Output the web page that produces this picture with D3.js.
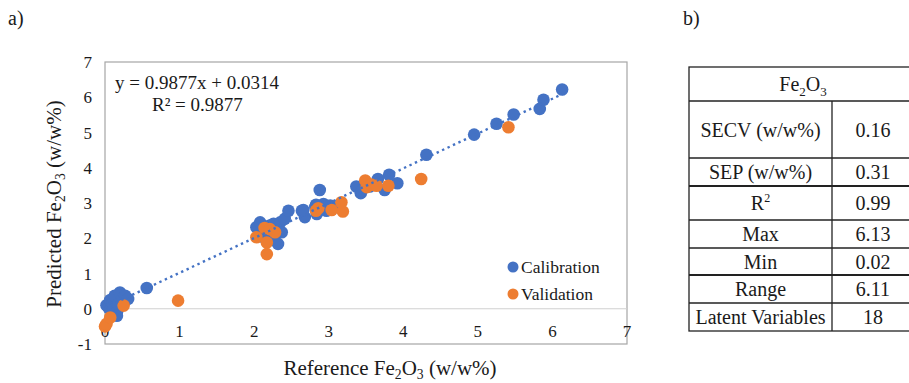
<!DOCTYPE html>
<html>
<head>
<meta charset="utf-8">
<script src="https://cdn.jsdelivr.net/npm/d3@7"></script>
<style>
  body { margin: 0; background: #fff; }
  svg text { font-family: "Liberation Serif", "Times New Roman", serif; fill: #1a1a1a; }
</style>
</head>
<body>
<svg id="chart" width="909" height="383" font-family="Liberation Serif, serif"></svg>
<script>
// calibration set (reference, predicted)
const calX = [0.02, 0.05, 0.07, 0.10, 0.11, 0.13, 0.16, 0.16, 0.18, 0.20, 0.24, 0.27, 0.31, 0.56,
  2.03, 2.08, 2.12, 2.10, 2.20, 2.26, 2.26, 2.32, 2.35, 2.37, 2.41, 2.46,
  2.64, 2.68, 2.66, 2.84, 2.82, 2.88, 2.93, 2.97, 3.02, 3.11, 2.83,
  3.37, 3.43, 3.44, 3.55, 3.66, 3.75, 3.81, 3.92,
  4.31, 4.95, 5.25, 5.48, 5.83, 5.88, 6.13];
const calY = [0.10, 0.02, 0.25, 0.15, 0.04, 0.37, -0.10, -0.20, 0.13, 0.46, 0.30, 0.37, 0.28, 0.59,
  2.31, 2.45, 2.17, 2.05, 2.35, 2.03, 2.41, 1.84, 2.45, 2.17, 2.55, 2.78,
  2.78, 2.60, 2.80, 2.69, 2.89, 3.37, 2.97, 2.78, 2.93, 2.88, 2.95,
  3.47, 3.28, 3.35, 3.47, 3.68, 3.37, 3.80, 3.56,
  4.37, 4.94, 5.25, 5.51, 5.67, 5.93, 6.22];

// validation set
const valX = [0.00, 0.02, 0.07, 0.25, 0.98, 2.03, 2.14, 2.17, 2.17, 2.21, 2.28,
  2.86, 2.83, 3.04, 3.17, 3.19, 3.49, 3.51, 3.57, 3.64, 3.80, 4.24, 5.41];
const valY = [-0.50, -0.43, -0.25, 0.09, 0.23, 2.03, 2.29, 1.88, 1.55, 2.26, 2.17,
  2.85, 2.78, 2.80, 3.02, 2.76, 3.64, 3.45, 3.52, 3.49, 3.49, 3.68, 5.15];

const slope = 0.9877, intercept = 0.0314;
const xTicks = [0, 1, 2, 3, 4, 5, 6, 7];
const yTicks = [-1, 0, 1, 2, 3, 4, 5, 6, 7];

const tableLabels = ["SECV (w/w%)", "SEP (w/w%)", "R2", "Max", "Min", "Range", "Latent Variables"];
const tableValues = ["0.16", "0.31", "0.99", "6.13", "0.02", "6.11", "18"];

const svg = d3.select('#chart');
const x = d3.scaleLinear().domain([0, 7]).range([105, 627]);
const y = d3.scaleLinear().domain([-1, 7]).range([344, 62]);

svg.append('text').attr('x', 8).attr('y', 25).attr('font-size', 20).text('a)');
svg.append('text').attr('x', 683).attr('y', 25).attr('font-size', 20).text('b)');

// plot frame
svg.append('rect')
    .attr('x', x(0)).attr('y', y(7))
    .attr('width', x(7) - x(0)).attr('height', y(-1) - y(7))
    .attr('fill', 'none').attr('stroke', '#a6a6a6').attr('stroke-width', 1.2);

// horizontal axis line at y = 0
svg.append('line')
    .attr('x1', x(0)).attr('x2', x(7))
    .attr('y1', y(0)).attr('y2', y(0))
    .attr('stroke', '#d0d0d0').attr('stroke-width', 1.2);

svg.selectAll('.ytick').data(yTicks).enter().append('text')
    .attr('class', 'ytick')
    .attr('x', 92).attr('y', d => y(d) + 6)
    .attr('text-anchor', 'end').attr('font-size', 17)
    .text(d => d);

svg.selectAll('.xtick').data(xTicks).enter().append('text')
    .attr('class', 'xtick')
    .attr('x', d => x(d)).attr('y', y(0) + 28)
    .attr('text-anchor', 'middle').attr('font-size', 17)
    .text(d => d);

// points
const calData = calX.map((v, i) => [v, calY[i]]);
const valData = valX.map((v, i) => [v, valY[i]]);

svg.selectAll('.cal').data(calData).enter().append('circle')
    .attr('class', 'cal')
    .attr('cx', d => x(d[0])).attr('cy', d => y(d[1]))
    .attr('r', 6.3).attr('fill', '#4472c4');

svg.selectAll('.val').data(valData).enter().append('circle')
    .attr('class', 'val')
    .attr('cx', d => x(d[0])).attr('cy', d => y(d[1]))
    .attr('r', 6.3).attr('fill', '#ed7d31');

// trendline
const xEnd = d3.max(calX);
svg.append('line')
    .attr('x1', x(0)).attr('y1', y(intercept))
    .attr('x2', x(xEnd)).attr('y2', y(slope * xEnd + intercept))
    .attr('stroke', '#4472c4').attr('stroke-width', 2.4)
    .attr('stroke-dasharray', '2.4,3.6');

// equation
svg.append('text').attr('x', 115).attr('y', 89).attr('font-size', 19)
    .text(`y = ${slope}x + ${intercept}`);
svg.append('text').attr('x', 152).attr('y', 111).attr('font-size', 19)
    .text(`R² = ${slope}`);

// legend
const legend = [['Calibration', '#4472c4'], ['Validation', '#ed7d31']];
legend.forEach((l, i) => {
    svg.append('circle').attr('cx', 513).attr('cy', 267 + i * 27).attr('r', 5.5).attr('fill', l[1]);
    svg.append('text').attr('x', 521).attr('y', 273 + i * 27).attr('font-size', 17.5).text(l[0]);
});

// axis titles
function chem(sel, before, after, size) {
    sel.append('tspan').text(before + 'Fe');
    sel.append('tspan').attr('font-size', size * 0.65).attr('dy', 4).text('2');
    sel.append('tspan').attr('dy', -4).text('O');
    sel.append('tspan').attr('font-size', size * 0.65).attr('dy', 4).text('3');
    sel.append('tspan').attr('dy', -4).text(after);
}

const yt = svg.append('text')
    .attr('transform', 'translate(61,204) rotate(-90)')
    .attr('text-anchor', 'middle').attr('font-size', 21);
chem(yt, 'Predicted ', ' (w/w%)', 21);

const xt = svg.append('text')
    .attr('x', 390).attr('y', 375)
    .attr('text-anchor', 'middle').attr('font-size', 21);
chem(xt, 'Reference ', ' (w/w%)', 21);

// table
const tLeft = 689, tMid = 832, tRight = 912;
const rowEdges = [67, 101, 158, 186, 220, 248, 275, 303, 331];
const tg = svg.append('g');
tg.append('rect').attr('x', tLeft).attr('y', rowEdges[0])
    .attr('width', tRight - tLeft).attr('height', rowEdges[8] - rowEdges[0])
    .attr('fill', 'none').attr('stroke', '#222').attr('stroke-width', 1.3);
rowEdges.slice(1, 8).forEach(e => {
    tg.append('line').attr('x1', tLeft).attr('x2', tRight).attr('y1', e).attr('y2', e)
        .attr('stroke', '#222').attr('stroke-width', (e === 186 || e === 275) ? 2 : 1.3);
});
tg.append('line').attr('x1', tMid).attr('x2', tMid).attr('y1', rowEdges[1]).attr('y2', rowEdges[8])
    .attr('stroke', '#222').attr('stroke-width', 1.3);

const head = tg.append('text').attr('x', 803).attr('y', 91)
    .attr('text-anchor', 'middle').attr('font-size', 20);
head.append('tspan').text('Fe');
head.append('tspan').attr('font-size', 13).attr('dy', 5).text('2');
head.append('tspan').attr('dy', -5).text('O');
head.append('tspan').attr('font-size', 13).attr('dy', 5).text('3');

tableLabels.forEach((lab, i) => {
    const cy = (rowEdges[i + 1] + rowEdges[i + 2]) / 2 + 7;
    const t = tg.append('text').attr('x', (tLeft + tMid) / 2).attr('y', cy)
        .attr('text-anchor', 'middle').attr('font-size', 20);
    if (lab === 'R2') {
        t.append('tspan').text('R');
        t.append('tspan').attr('font-size', 12).attr('dy', -8).text('2');
    } else {
        t.text(lab);
    }
    tg.append('text').attr('x', 873).attr('y', cy)
        .attr('text-anchor', 'middle').attr('font-size', 20).text(tableValues[i]);
});
</script>
</body>
</html>
